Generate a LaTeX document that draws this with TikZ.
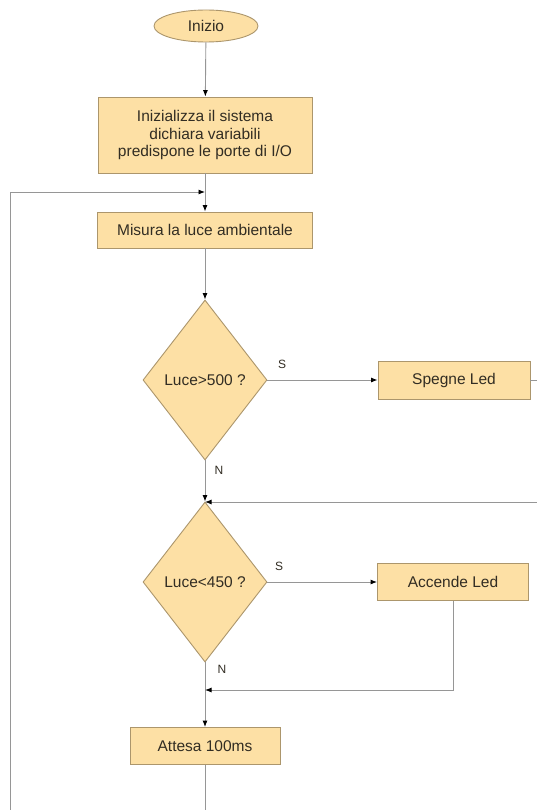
\documentclass[tikz,border=0pt]{standalone}
\usepackage{fontspec}
\setmainfont{Liberation Sans}
\usetikzlibrary{shapes.geometric,arrows.meta}
\definecolor{boxfill}{RGB}{253,224,165}
\definecolor{boxdraw}{RGB}{172,150,108}
\definecolor{linec}{RGB}{150,150,150}
\definecolor{txt}{RGB}{50,45,35}
\begin{document}
\begin{tikzpicture}[x=1pt,y=-1pt,
  font=\fontsize{15.5}{17.5}\selectfont,
  every node/.style={text=txt},
  proc/.style={rectangle, draw=boxdraw, fill=boxfill, line width=0.9pt, inner sep=0pt, align=center},
  dec/.style={diamond, draw=boxdraw, fill=boxfill, line width=0.9pt, inner sep=0pt, minimum width=124pt, minimum height=160pt},
  term/.style={ellipse, draw=boxdraw, fill=boxfill, line width=0.9pt, inner sep=0pt},
  conn/.style={draw=linec, line width=0.9pt},
  arr/.style={conn, -{Latex[length=6.5pt,width=5pt,color=black]}},
  lbl/.style={font=\fontsize{12}{14}\selectfont}
]
\useasboundingbox (0,0) rectangle (537,810);
\fill[white] (0,0) rectangle (537,810);
\begin{scope}
\clip (0,0) rectangle (537,810);
\node[term, minimum width=104pt, minimum height=32pt] (start) at (206,26) {Inizio};
\node[proc, minimum width=214pt, minimum height=76pt] (init) at (205,135) {Inizializza il sistema\\dichiara variabili\\predispone le porte di I/O};
\node[proc, minimum width=215pt, minimum height=36pt] (meas) at (205,230) {Misura la luce ambientale};
\node[dec] (d1) at (205,380) {Luce>500 ?};
\node[proc, minimum width=152pt, minimum height=38pt] (off) at (454,380) {Spegne Led};
\node[dec] (d2) at (205,582) {Luce<450 ?};
\node[proc, minimum width=151pt, minimum height=37pt] (on) at (453,582) {Accende Led};
\node[proc, minimum width=150pt, minimum height=37pt] (wait) at (205,746) {Attesa 100ms};

\node[lbl] (s1) at (282,364) {S};
\node[lbl] (n1) at (219,470) {N};
\node[lbl] (s2) at (279,566) {S};
\node[lbl] (n2) at (222,669) {N};

\coordinate (j1) at (205,192);
\coordinate (j2) at (205,502);
\coordinate (j3) at (205,690);
\coordinate (lb) at (205,830);
\coordinate (lbl0) at (10,830);
\coordinate (ltop) at (10,192);
\coordinate (r1) at (560,380);
\coordinate (r2) at (560,502);

\draw[arr] (start) -- (init);
\draw[arr] (init) -- (meas);
\draw[arr] (meas) -- (d1);
\draw[arr] (d1) -- (off);
\draw[arr] (d1) -- (d2);
\draw[arr] (d2) -- (on);
\draw[arr] (d2) -- (wait);
\draw[arr] (on.south) |- (j3);
\draw[arr] (off.east) -- (r1) -- (r2) -- (j2);
\draw[arr] (wait.south) -- (lb) -- (lbl0) -- (ltop) -- (j1);
\end{scope}
\end{tikzpicture}
\end{document}
